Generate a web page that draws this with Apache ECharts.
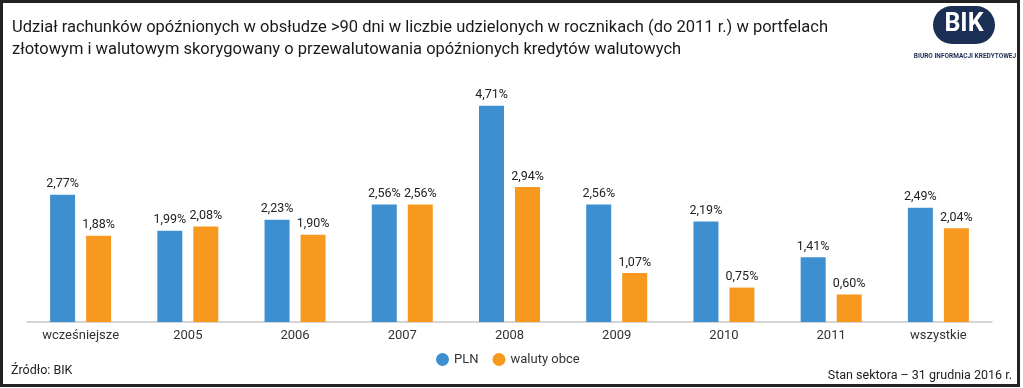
<!DOCTYPE html>
<html><head><meta charset="utf-8">
<script src="https://cdn.jsdelivr.net/npm/echarts@6/dist/echarts.min.js"></script>
<style>html,body{margin:0;padding:0;background:#fff}#c{width:1023px;height:388px}</style>
</head><body><div id="c"></div>
<script>
const categories = ['wcześniejsze','2005','2006','2007','2008','2009','2010','2011','wszystkie'];
const plnValues = [2.77,1.99,2.23,2.56,4.71,2.56,2.19,1.41,2.49];
const fxValues = [1.88,2.08,1.90,2.56,2.94,1.07,0.75,0.60,2.04];
const seriesNames = ['PLN','waluty obce'];
const titleLines = ['Udział rachunków opóźnionych w obsłudze >90 dni w liczbie udzielonych w rocznikach (do 2011 r.) w portfelach','złotowym i walutowym skorygowany o przewalutowania opóźnionych kredytów walutowych'];
const FONT = 'Roboto';
const chart = echarts.init(document.getElementById('c'));
const fmt = p => p.value.toFixed(2).replace('.', ',') + '%';
chart.setOption({
  animation:false,
  textStyle:{fontFamily:FONT},
  grid:{left:27,right:31,top:92.5,bottom:66},
  legend:{data:seriesNames,left:431,top:348,icon:'circle',itemWidth:13,itemHeight:13,itemGap:14,
    textStyle:{fontSize:13,color:'#333',fontFamily:FONT}},
  xAxis:{type:'category',data:categories,axisLine:{lineStyle:{color:'#c8c8c8',width:1.5}},axisTick:{show:false},
    axisLabel:{fontSize:13,color:'#333',margin:7,fontFamily:FONT}},
  yAxis:{type:'value',min:0,max:5,show:false,splitLine:{show:false}},
  series:[
    {name:seriesNames[0],type:'bar',data:plnValues,barWidth:25,barGap:'44%',itemStyle:{color:'#3d8fcf'},
      label:{show:true,position:'top',distance:4,formatter:fmt,fontSize:12.5,color:'#222',fontFamily:FONT}},
    {name:seriesNames[1],type:'bar',data:fxValues,barWidth:25,barGap:'44%',itemStyle:{color:'#f7991f'},
      label:{show:true,position:'top',distance:4,formatter:fmt,fontSize:12.5,color:'#222',fontFamily:FONT}}
  ],
  graphic:[
    {type:'rect',shape:{x:1.5,y:1.5,width:1017,height:384},style:{fill:'none',stroke:'#222',lineWidth:3},silent:true},
    {type:'text',left:12,top:17,style:{text:titleLines.join('\n'),font:'16.5px '+FONT,fill:'#1a1a1a',lineHeight:22}},
    {type:'rect',shape:{x:933,y:6,width:62,height:38,r:19},style:{fill:'#1b2f55'}},
    {type:'text',x:964,y:25,style:{text:'BIK',font:'bold 25px '+FONT,fill:'#fff',textAlign:'center',textVerticalAlign:'middle'}},
    {type:'text',x:965,y:56,style:{text:'BIURO INFORMACJI KREDYTOWEJ',font:'bold 6.5px '+FONT,fill:'#1b2f55',textAlign:'center',textVerticalAlign:'middle'}},
    {type:'text',left:11,top:364,style:{text:'Źródło: BIK',font:'12.5px '+FONT,fill:'#222'}},
    {type:'text',right:11,top:369,style:{text:'Stan sektora – 31 grudnia 2016 r.',font:'12.5px '+FONT,fill:'#222'}}
  ]
});
</script></body></html>
